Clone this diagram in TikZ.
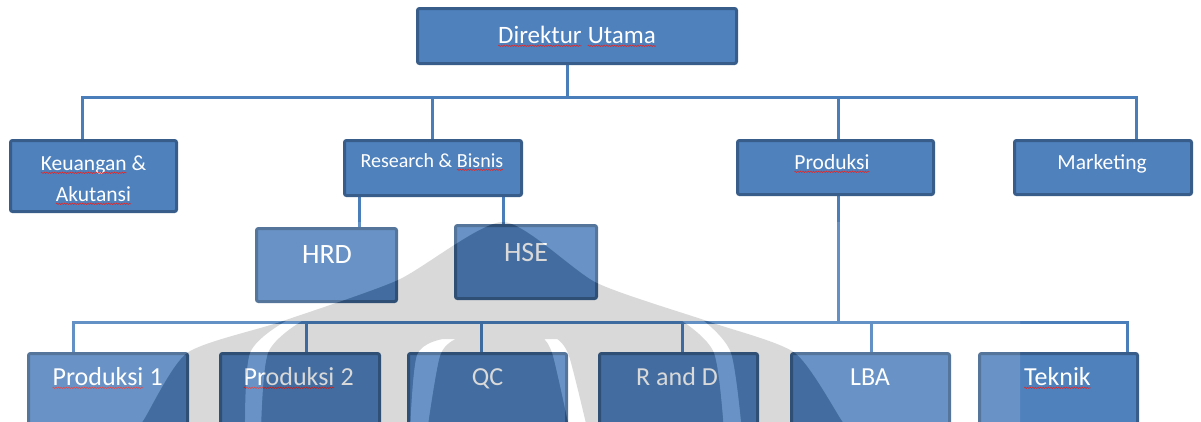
\documentclass[tikz,border=0pt]{standalone}
\usepackage{fontspec}
\setmainfont{Carlito}
\usetikzlibrary{decorations.pathmorphing,backgrounds}

\definecolor{boxfill}{HTML}{4F81BD}
\definecolor{boxline}{HTML}{385D8A}
\definecolor{linkcol}{HTML}{4A7EBB}
\definecolor{spell}{HTML}{E02828}

% word with a red wavy spell-check underline
\newcommand{\spellmark}[1]{\tikz[baseline=(w.base)]{\node[inner sep=0pt,outer sep=0pt](w){#1};%
  \draw[spell,line width=0.55pt,decorate,decoration={snake,amplitude=0.75pt,segment length=2.6pt}]
    ([yshift=-2.8pt]w.base west) -- ([yshift=-2.8pt]w.base east);}}

% watermark outline and its light bands
\newcommand{\bellpath}{plot[smooth,tension=0.4] coordinates {(132,432) (143,421) (187,353) (280,322) (398,280) (503,222) (597,283) (710,322) (795,353) (842,421) (850,432)} -- cycle}
\newcommand{\bandpaths}{
  plot[smooth] coordinates {(302,321) (268,353) (261,432)} -- plot[smooth] coordinates {(245,432) (250,353) (286,321)} -- cycle
  plot[smooth] coordinates {(682,321) (714,353) (724,432)} -- plot[smooth] coordinates {(742,432) (731,353) (704,321)} -- cycle
  plot[smooth] coordinates {(456,339) (440,356) (427,432)} -- plot[smooth] coordinates {(410,432) (417,355) (443,339)} -- cycle
  plot[smooth] coordinates {(544,339) (553,356) (570,432)} -- plot[smooth] coordinates {(588,432) (569,356) (557,339)} -- cycle
}

\tikzset{
  orgbox/.style={draw=boxline, line width=3pt, fill=boxfill, rounded corners=2pt, inner sep=0pt},
  link/.style={draw=linkcol, line width=3pt},
  lbl/.style={text=white, inner sep=0pt, anchor=base},
}

\begin{document}
\begin{tikzpicture}[x=1pt,y=-1pt]
\useasboundingbox (0,0) rectangle (1201,421);

% connector x positions
\coordinate (xdir) at (567,0);
\coordinate (xkeu) at (82,0);
\coordinate (xres) at (432,0);
\coordinate (xpro) at (838,0);
\coordinate (xmkt) at (1136,0);
\coordinate (xhrd) at (359,0);
\coordinate (xhse) at (503,0);
\coordinate (xp1) at (73,0);
\coordinate (xp2) at (306,0);
\coordinate (xqc) at (481,0);
\coordinate (xrnd) at (682,0);
\coordinate (xlba) at (871,0);
\coordinate (xtek) at (1127,0);
\coordinate (topbus) at (567,97);
\coordinate (botbus) at (838,322);

% boxes
\node[orgbox, minimum width=319pt, minimum height=55pt] (dir) at (577,36) {};
\node[orgbox, minimum width=166pt, minimum height=71pt] (keu) at (93.5,176) {};
\node[orgbox, minimum width=177pt, minimum height=55pt] (res) at (433,168) {};
\node[orgbox, minimum width=196pt, minimum height=54pt] (pro) at (835.5,167.5) {};
\node[orgbox, minimum width=177pt, minimum height=54pt] (mkt) at (1103,167.5) {};
\node[orgbox, minimum width=140pt, minimum height=73pt] (hrd) at (326.5,265) {};
\node[orgbox, minimum width=141pt, minimum height=73pt] (hse) at (526,262) {};
\node[orgbox, minimum width=159pt, minimum height=75pt] (p1) at (108,391) {};
\node[orgbox, minimum width=159pt, minimum height=75pt] (p2) at (300,391) {};
\node[orgbox, minimum width=158pt, minimum height=75pt] (qc) at (487.5,391) {};
\node[orgbox, minimum width=158pt, minimum height=75pt] (rnd) at (678.5,391) {};
\node[orgbox, minimum width=158pt, minimum height=75pt] (lba) at (870.5,391) {};
\node[orgbox, minimum width=158pt, minimum height=75pt] (tek) at (1058.5,391) {};

% connectors, behind the boxes
\begin{scope}[on background layer]
  \draw[link] (dir.south -| xdir) -- (topbus);
  \draw[link] (keu.north -| xkeu) |- (topbus) -| (mkt.north -| xmkt);
  \draw[link] (res.north -| xres) -- (topbus -| xres);
  \draw[link] (pro.north -| xpro) -- (topbus -| xpro);
  \draw[link] (res.south -| xhrd) -- (hrd.north -| xhrd);
  \draw[link] (res.south -| xhse) -- (hse.north -| xhse);
  \draw[link] (pro.south -| xpro) -- (botbus);
  \draw[link] (p1.north -| xp1) |- (botbus) -| (tek.north -| xtek);
  \draw[link] (p2.north -| xp2) -- (botbus -| xp2);
  \draw[link] (qc.north -| xqc) -- (botbus -| xqc);
  \draw[link] (rnd.north -| xrnd) -- (botbus -| xrnd);
  \draw[link] (lba.north -| xlba) -- (botbus -| xlba);
\end{scope}

% labels
\node[lbl, font=\fontsize{25pt}{30pt}\selectfont] (tdir) at (577,43) {\spellmark{Direktur} \spellmark{Utama}};
\node[lbl, font=\fontsize{21.5pt}{26pt}\selectfont] (tkeu1) at (93.5,170) {\spellmark{Keuangan} \&};
\node[lbl, font=\fontsize{21.5pt}{26pt}\selectfont] (tkeu2) at (93.5,201) {\spellmark{Akutansi}};
\node[lbl, font=\fontsize{20pt}{24pt}\selectfont] (tres) at (432,167) {Research \& \spellmark{Bisnis}};
\node[lbl, font=\fontsize{21.5pt}{26pt}\selectfont] (tpro) at (832,169) {\spellmark{Produksi}};
\node[lbl, font=\fontsize{21.5pt}{26pt}\selectfont] (tmkt) at (1102,169) {Marketing};
\node[lbl, font=\fontsize{28pt}{32pt}\selectfont] (thrd) at (327,263) {HRD};
\node[lbl, font=\fontsize{28pt}{32pt}\selectfont] (thse) at (526,261) {HSE};
\node[lbl, font=\fontsize{26pt}{30pt}\selectfont] (tp1) at (107.5,385) {\spellmark{Produksi} 1};
\node[lbl, font=\fontsize{26pt}{30pt}\selectfont] (tp2) at (298.5,385) {\spellmark{Produksi} 2};
\node[lbl, font=\fontsize{26pt}{30pt}\selectfont] (tqc) at (487.5,385) {QC};
\node[lbl, font=\fontsize{26pt}{30pt}\selectfont] (trnd) at (677,385) {R and D};
\node[lbl, font=\fontsize{26pt}{30pt}\selectfont] (tlba) at (870,385) {LBA};
\node[lbl, font=\fontsize{26pt}{30pt}\selectfont] (ttek) at (1057.5,385) {\spellmark{Teknik}};

% translucent watermark layer over the lower part
\begin{scope}
  \clip (-5,222) rectangle (1020,432);
  \fill[white, fill opacity=0.15, even odd rule] (-5,222) rectangle (1020,432) \bellpath \bandpaths;
  \fill[black, fill opacity=0.15, even odd rule] \bellpath \bandpaths;
\end{scope}

\end{tikzpicture}
\end{document}
